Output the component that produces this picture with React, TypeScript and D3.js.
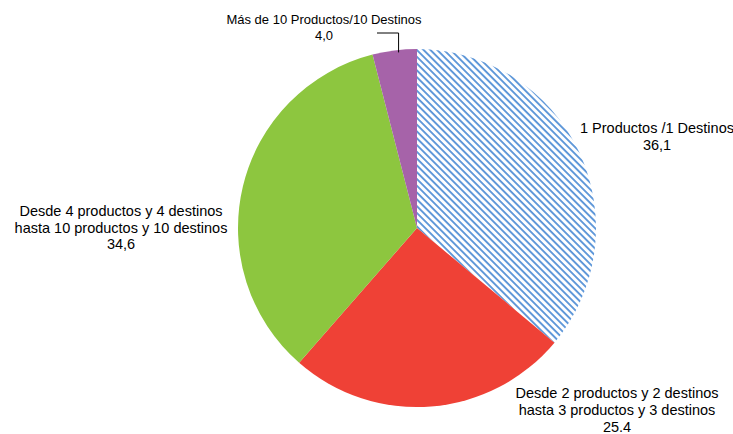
import React from "react";
import * as d3 from "d3";

const categories = [
  "1 Productos /1 Destinos",
  "Desde 2 productos y 2 destinos hasta 3 productos y 3 destinos",
  "Desde 4 productos y 4 destinos hasta 10 productos y 10 destinos",
  "Más de 10 Productos/10 Destinos",
];
const values = [36.1, 25.4, 34.6, 4.0];
const valueLabels = ["36,1", "25.4", "34,6", "4,0"];
const labelLines = [
  ["1 Productos /1 Destinos"],
  ["Desde 2 productos y 2 destinos", "hasta 3 productos y 3 destinos"],
  ["Desde 4 productos y 4 destinos", "hasta 10 productos y 10 destinos"],
  ["Más de 10 Productos/10 Destinos"],
];
const fills = ["url(#hatch)", "#EF4136", "#8DC63F", "#A663A9"];

const W = 733;
const H = 434;
const cx = 417;
const cy = 228;
const R = 179;

// label anchor positions (center x, first baseline y, font size, line step)
const labelPos: [number, number, number, number][] = [
  [657, 133, 14.5, 16.5],
  [617, 398, 14.5, 17],
  [121, 216, 14.5, 16.5],
  [324, 24, 13, 15.5],
];

export default function App() {
  const pie = d3.pie<number>().sort(null).value((d) => d);
  const arcs = pie(values);
  const arc = d3.arc<d3.PieArcDatum<number>>().innerRadius(0).outerRadius(R);
  const font = "'Liberation Sans', Arial, sans-serif";

  const small = arcs[3];
  const midA = (small.startAngle + small.endAngle) / 2;
  const edgeX = cx + R * Math.sin(midA) + 4;
  const edgeY = cy - R * Math.cos(midA);

  return (
    <svg width={W} height={H} style={{ position: "absolute", left: 0, top: 0 }}>
      <defs>
        <pattern id="hatch" patternUnits="userSpaceOnUse" width={4.8} height={4.8} patternTransform="rotate(-45)">
          <rect width={4.8} height={4.8} fill="#ffffff" />
          <line x1={1} y1={0} x2={1} y2={4.8} stroke="#5B95D8" strokeWidth={1.9} />
        </pattern>
      </defs>
      <g transform={`translate(${cx},${cy})`}>
        {arcs.map((a, i) => (
          <path key={categories[i]} d={arc(a) as string} fill={fills[i]} />
        ))}
      </g>
      <polyline
        points={`377,33 ${edgeX},33 ${edgeX},${edgeY + 2}`}
        fill="none"
        stroke="#000"
        strokeWidth={1}
      />
      {labelLines.map((lines, i) => (
        <text
          key={categories[i]}
          x={labelPos[i][0]}
          y={labelPos[i][1]}
          textAnchor="middle"
          fontFamily={font}
          fontSize={labelPos[i][2]}
          fill="#000"
        >
          {[...lines, valueLabels[i]].map((t, j) => (
            <tspan key={j} x={labelPos[i][0]} dy={j === 0 ? 0 : labelPos[i][3]}>
              {t}
            </tspan>
          ))}
        </text>
      ))}
    </svg>
  );
}
